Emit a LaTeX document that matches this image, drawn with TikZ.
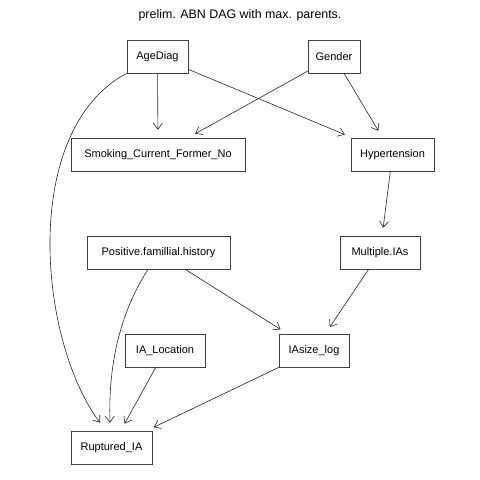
\documentclass[tikz,border=0pt]{standalone}
\usepackage{fontspec}
\setmainfont{Liberation Sans}
\usetikzlibrary{arrows.meta,calc}
\begin{document}
\begin{tikzpicture}[x=1pt,y=-1pt,
  box/.style={draw=black!75,line width=0.7pt,rectangle,inner sep=0pt,minimum height=33pt,font=\fontsize{11}{13}\selectfont},
  edge/.style={draw=black!85,line width=0.6pt,-{Straight Barb[length=6pt,width=9pt,line width=0.6pt]},shorten >=8pt}]
\useasboundingbox (0,0) rectangle (480,480);
\node[font=\fontsize{12.4}{14}\selectfont] (title) at (240,15) {prelim. ABN DAG with max. parents.};
\node[box,minimum width=61pt] (age) at (157.5,56.5) {AgeDiag};
\node[box,minimum width=52pt] (gen) at (334,56.5) {Gender};
\node[box,minimum width=174pt] (smk) at (158,154.5) {Smoking\_Current\_Former\_No};
\node[box,minimum width=83pt] (hyp) at (392.5,154.5) {Hypertension};
\node[box,minimum width=143pt] (pos) at (158.5,252.5) {Positive.famillial.history};
\node[box,minimum width=80pt] (mul) at (380,252.5) {Multiple.IAs};
\node[box,minimum width=80pt] (loc) at (165,350.5) {IA\_Location};
\node[box,minimum width=70pt] (siz) at (314,350.5) {IAsize\_log};
\node[box,minimum width=81pt] (rup) at (111.5,447.5) {Ruptured\_IA};
\draw[edge] (age) -- (smk);
\draw[edge] (age) -- (hyp);
\draw[edge] (gen) -- (smk);
\draw[edge] (gen) -- (hyp);
\draw[edge] (hyp) -- (mul);
\draw[edge] (pos) -- (siz);
\draw[edge] (mul) -- (siz);
\draw[edge] (loc) -- (rup);
\draw[edge] (siz) -- (rup);
\draw[edge,shorten >=0pt] (age.south west) .. controls (20,130) and (38,340) .. ($(rup.north)+(-11.5,-8)$);
\draw[edge,shorten >=0pt] ($(pos.south)+(-10.5,0)$) .. controls (122,310) and (108,360) .. ($(rup.north)+(-1.5,-8)$);
\end{tikzpicture}
\end{document}
